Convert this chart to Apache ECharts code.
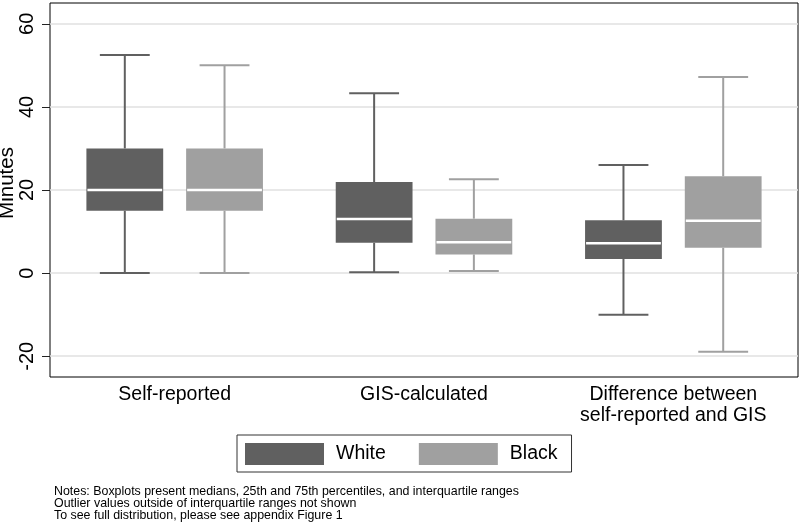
<!DOCTYPE html>
<html>
<head>
<meta charset="utf-8">
<script src="https://cdn.jsdelivr.net/npm/echarts@6/dist/echarts.min.js"></script>
<style>html,body{margin:0;padding:0;background:#fff}#c{width:800px;height:525px}</style>
</head>
<body>
<div id="c"></div>
<script>
const categories = ['Self-reported', 'GIS-calculated', 'Difference between\nself-reported and GIS'];
const seriesNames = ['White', 'Black'];
const whiteLow = [0, 0.2, -10];
const whiteQ1 = [15, 7.3, 3.4];
const whiteMedian = [20, 13, 7.2];
const whiteQ3 = [30, 21.9, 12.7];
const whiteHigh = [52.5, 43.3, 26];
const blackLow = [0, 0.5, -18.9];
const blackQ1 = [15, 4.5, 6.1];
const blackMedian = [20, 7.4, 12.6];
const blackQ3 = [30, 13.1, 23.3];
const blackHigh = [50, 22.6, 47.2];
const yTicks = [-20, 0, 20, 40, 60];
const notes = [
  'Notes: Boxplots present medians, 25th and 75th percentiles, and interquartile ranges',
  'Outlier values outside of interquartile ranges not shown',
  'To see full distribution, please see appendix Figure 1'
];

const FONT = 'Liberation Sans, Arial, Helvetica, sans-serif';
const colors = ['#606060', '#a0a0a0'];

function rows(low, q1, med, q3, high) {
  return categories.map((c, i) => [i, low[i], q1[i], med[i], q3[i], high[i]]);
}

function makeRender(offsetFrac, color) {
  return function (params, api) {
    const idx = api.value(0);
    const band = api.size([1, 0])[0];
    const cx = api.coord([idx, 0])[0] + offsetFrac * band;
    const y = v => api.coord([idx, v])[1];
    const lowY = y(api.value(1)), q1Y = y(api.value(2)), medY = y(api.value(3)),
          q3Y = y(api.value(4)), highY = y(api.value(5));
    const bw = band * 0.308, cw = band * 0.2;
    const ls = { stroke: color, lineWidth: 2 };
    return {
      type: 'group',
      children: [
        { type: 'line', shape: { x1: cx, y1: highY, x2: cx, y2: q3Y }, style: ls },
        { type: 'line', shape: { x1: cx, y1: q1Y, x2: cx, y2: lowY }, style: ls },
        { type: 'line', shape: { x1: cx - cw / 2, y1: highY, x2: cx + cw / 2, y2: highY }, style: ls },
        { type: 'line', shape: { x1: cx - cw / 2, y1: lowY, x2: cx + cw / 2, y2: lowY }, style: ls },
        { type: 'rect', shape: { x: cx - bw / 2, y: q3Y, width: bw, height: q1Y - q3Y }, style: { fill: color } },
        { type: 'line', shape: { x1: cx - bw / 2 + 1, y1: medY, x2: cx + bw / 2 - 1, y2: medY }, style: { stroke: '#ffffff', lineWidth: 2.5 } }
      ]
    };
  };
}

const chart = echarts.init(document.getElementById('c'), null, { renderer: 'canvas' });
chart.setOption({
  animation: false,
  backgroundColor: '#ffffff',
  textStyle: { fontFamily: FONT },
  grid: { left: 50, right: 2, top: 3, bottom: 148, outerBoundsMode: 'none', containLabel: false,
          show: true, borderColor: '#000', borderWidth: 1, backgroundColor: 'transparent' },
  legend: {
    left: 237, top: 435,
    data: seriesNames.map((n, i) => ({ name: n, icon: 'rect', itemStyle: { color: colors[i] } })),
    itemWidth: 79, itemHeight: 22, itemGap: 33,
    padding: [8, 14, 7, 8],
    borderColor: '#333', borderWidth: 1,
    textStyle: { fontSize: 19.5, color: '#000', fontFamily: FONT, padding: [0, 0, 0, 7] },
    selectedMode: false
  },
  xAxis: {
    type: 'category', data: categories,
    axisLine: { show: false }, axisTick: { show: false },
    splitLine: { show: false },
    axisLabel: { color: '#000', fontSize: 19.5, margin: 7, lineHeight: 21, fontFamily: FONT, interval: 0 }
  },
  yAxis: {
    type: 'value', min: -25, max: 65,
    name: 'Minutes', nameLocation: 'middle', nameGap: 32, nameMoveOverlap: false,
    nameTextStyle: { fontSize: 20.5, color: '#000', fontFamily: FONT, padding: [0, 0, 0, 14] },
    axisLine: { show: false },
    axisTick: { show: true, length: 8, customValues: yTicks, lineStyle: { color: '#222' } },
    axisLabel: { customValues: yTicks, rotate: 90, fontSize: 20, color: '#000', margin: 13, fontFamily: FONT },
    splitLine: { show: true, lineStyle: { color: '#e0e0e0', width: 1.5 } }
  },
  series: [
    { name: 'White', type: 'custom', renderItem: makeRender(-0.2, colors[0]), itemStyle: { color: colors[0] },
      encode: { x: 0, y: [1, 2, 3, 4, 5] }, data: rows(whiteLow, whiteQ1, whiteMedian, whiteQ3, whiteHigh) },
    { name: 'Black', type: 'custom', renderItem: makeRender(0.2, colors[1]), itemStyle: { color: colors[1] },
      encode: { x: 0, y: [1, 2, 3, 4, 5] }, data: rows(blackLow, blackQ1, blackMedian, blackQ3, blackHigh) }
  ],
  graphic: notes.map((t, i) => ({
    type: 'text', left: 54, top: 486 + i * 11.7,
    style: { text: t, fontSize: 12.4, fill: '#000', fontFamily: FONT }
  }))
});
</script>
</body>
</html>
